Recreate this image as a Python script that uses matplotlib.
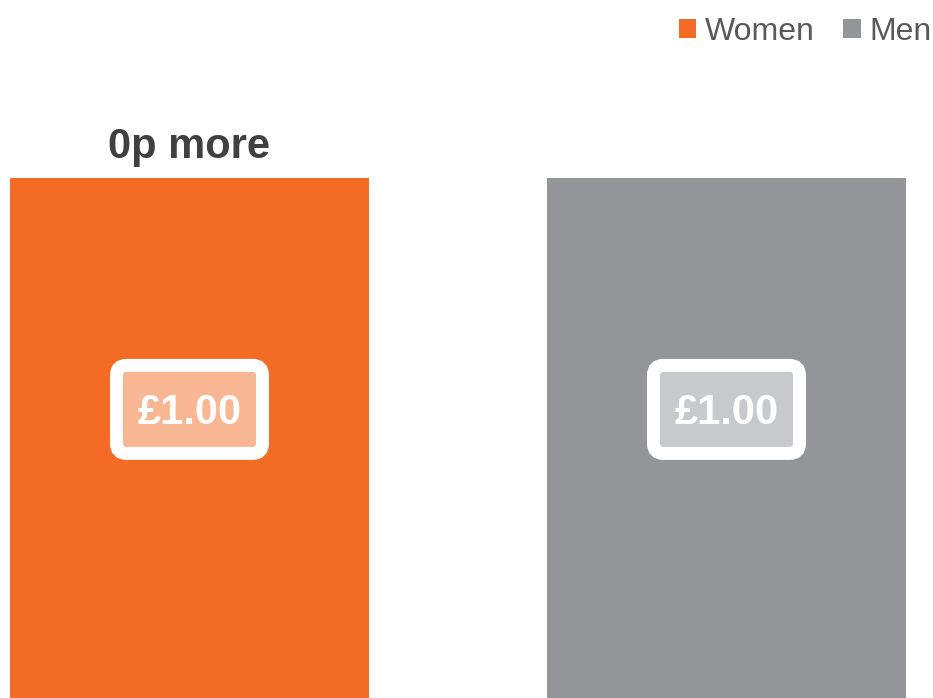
"""Pay comparison: Women vs Men, two bars with price badges."""

import matplotlib
matplotlib.use("Agg")
import matplotlib.pyplot as plt
from matplotlib.patches import FancyBboxPatch, Patch

plt.rcParams["font.family"] = ["Liberation Sans", "DejaVu Sans"]

CATEGORIES = ["Women", "Men"]
VALUES = [1.00, 1.00]
BADGE_LABELS = ["£1.00", "£1.00"]
HEADLINES = ["0p more", ""]

BAR_COLORS = ["#F36B24", "#949598"]
BADGE_COLORS = ["#F9B692", "#C8C9CB"]

W, H, DPI = 933, 698, 100
PX_PER_X = 537.0        # pixels per category step
PX_PER_Y = 520.0        # pixels per 1.00 of value
CENTER0_PX = 189.5


def main():
    fig = plt.figure(figsize=(W / DPI, H / DPI), dpi=DPI)
    ax = fig.add_axes([0, 0, 1, 1])
    ax.set_xlim(-CENTER0_PX / PX_PER_X, (W - CENTER0_PX) / PX_PER_X)
    ax.set_ylim(0, H / PX_PER_Y)
    ax.axis("off")

    xs = list(range(len(CATEGORIES)))
    ax.bar(xs, VALUES, width=359 / PX_PER_X, color=BAR_COLORS, linewidth=0)

    # badges: white rounded frame with a lighter inner panel
    bw, bh = 146 / PX_PER_X, 88 / PX_PER_Y
    aspect = PX_PER_X / PX_PER_Y
    for x, v, lab, col in zip(xs, VALUES, BADGE_LABELS, BADGE_COLORS):
        cy = v * 0.555
        box = FancyBboxPatch(
            (x - bw / 2, cy - bh / 2), bw, bh,
            boxstyle=f"round,pad=0,rounding_size={10 / PX_PER_X}",
            mutation_aspect=aspect,
            facecolor=col, edgecolor="white", linewidth=13 * 72 / DPI,
            zorder=3,
        )
        ax.add_patch(box)
        ax.text(x, cy - 15 / PX_PER_Y, lab, ha="center", va="baseline",
                fontsize=30, fontweight="bold", color="white", zorder=4)

    for x, v, txt in zip(xs, VALUES, HEADLINES):
        if txt:
            ax.annotate(txt, xy=(x, v), xytext=(0, 14.4),
                        textcoords="offset points", ha="center",
                        va="baseline", fontsize=30, fontweight="bold",
                        color="#404040")

    handles = [Patch(facecolor=c, edgecolor="none") for c in BAR_COLORS]
    fig.legend(handles, CATEGORIES, loc="upper right",
               bbox_to_anchor=(1.022, 1.008), ncol=2, frameon=False,
               fontsize=23, labelcolor="#595959", handlelength=0.56,
               handleheight=0.56, handletextpad=0.25, columnspacing=0.9,
               borderaxespad=0.3)

    fig.savefig("out.png", dpi=DPI)
    plt.close(fig)


if __name__ == "__main__":
    main()
